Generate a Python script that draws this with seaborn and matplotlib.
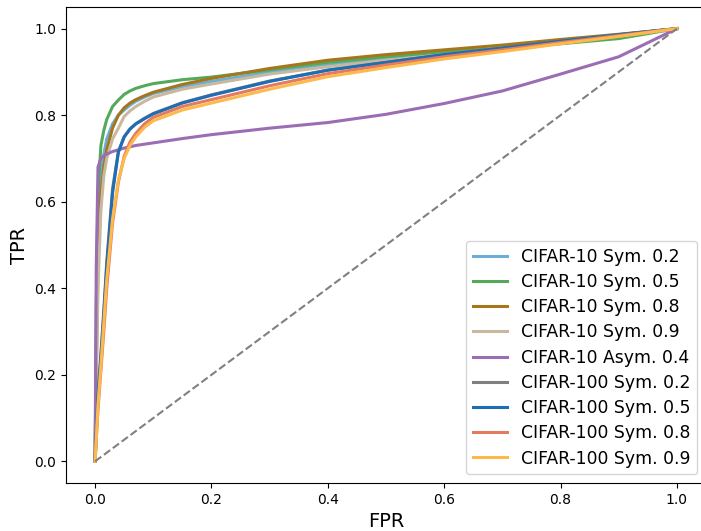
import numpy as np
import pandas as pd
import matplotlib
matplotlib.use("Agg")
import matplotlib.pyplot as plt
import seaborn as sns

# shared FPR grid
fpr = [0, 0.002, 0.005, 0.01, 0.015, 0.02, 0.03, 0.04, 0.05, 0.06, 0.07, 0.085,
       0.1, 0.15, 0.2, 0.3, 0.4, 0.5, 0.6, 0.7, 0.8, 0.9, 1.0]

labels = ["CIFAR-10 Sym. 0.2", "CIFAR-10 Sym. 0.5", "CIFAR-10 Sym. 0.8",
          "CIFAR-10 Sym. 0.9", "CIFAR-10 Asym. 0.4", "CIFAR-100 Sym. 0.2",
          "CIFAR-100 Sym. 0.5", "CIFAR-100 Sym. 0.8", "CIFAR-100 Sym. 0.9"]

c10_sym02 = [0, 0.25, 0.5, 0.66, 0.71, 0.745, 0.78, 0.80, 0.812, 0.823, 0.832, 0.842,
             0.85, 0.866, 0.878, 0.9, 0.916, 0.93, 0.942, 0.955, 0.97, 0.985, 1.0]
c10_sym05 = [0, 0.35, 0.62, 0.73, 0.765, 0.79, 0.82, 0.835, 0.848, 0.856, 0.862, 0.868,
             0.873, 0.882, 0.888, 0.905, 0.922, 0.935, 0.946, 0.955, 0.965, 0.977, 1.0]
c10_sym08 = [0, 0.2, 0.45, 0.62, 0.68, 0.72, 0.77, 0.80, 0.817, 0.828, 0.836, 0.845,
             0.853, 0.871, 0.885, 0.908, 0.927, 0.94, 0.951, 0.962, 0.975, 0.987, 1.0]
c10_sym09 = [0, 0.18, 0.4, 0.58, 0.66, 0.70, 0.745, 0.77, 0.797, 0.81, 0.82, 0.832,
             0.842, 0.86, 0.872, 0.895, 0.912, 0.927, 0.94, 0.953, 0.968, 0.983, 1.0]
c10_asym04 = [0, 0.45, 0.68, 0.70, 0.706, 0.71, 0.716, 0.72, 0.724, 0.727, 0.73, 0.733,
              0.736, 0.746, 0.755, 0.77, 0.783, 0.802, 0.827, 0.856, 0.895, 0.935, 1.0]
c100_sym02 = [0, 0.07, 0.16, 0.25, 0.35, 0.46, 0.63, 0.715, 0.75, 0.768, 0.78, 0.793,
              0.804, 0.829, 0.847, 0.879, 0.904, 0.922, 0.94, 0.955, 0.971, 0.986, 1.0]
c100_sym05 = [0, 0.06, 0.15, 0.24, 0.34, 0.45, 0.62, 0.715, 0.75, 0.768, 0.78, 0.792,
              0.803, 0.828, 0.846, 0.878, 0.904, 0.922, 0.94, 0.955, 0.971, 0.986, 1.0]
c100_sym08 = [0, 0.05, 0.12, 0.21, 0.30, 0.40, 0.55, 0.645, 0.705, 0.738, 0.758, 0.78,
              0.795, 0.82, 0.836, 0.868, 0.896, 0.916, 0.935, 0.951, 0.968, 0.984, 1.0]
c100_sym09 = [0, 0.05, 0.13, 0.22, 0.32, 0.42, 0.56, 0.65, 0.70, 0.73, 0.75, 0.772,
              0.787, 0.812, 0.828, 0.86, 0.889, 0.91, 0.93, 0.947, 0.965, 0.982, 1.0]

series = [c10_sym02, c10_sym05, c10_sym08, c10_sym09, c10_asym04,
          c100_sym02, c100_sym05, c100_sym08, c100_sym09]
colors = ["#6baed6", "#55a95a", "#a6761d", "#c8b99e", "#9a6db5",
          "#7f7f7f", "#1f6db4", "#e27b5f", "#fdb94b"]

df = pd.DataFrame({
    "FPR": np.tile(fpr, len(series)),
    "TPR": np.concatenate(series),
    "run": np.repeat(labels, len(fpr)),
})

fig = plt.figure(figsize=(7.01, 5.31), dpi=100)
ax = fig.add_axes([66 / 701, 48 / 531, 640 / 701, 476 / 531])

for lab, col in zip(labels, colors):
    sub = df[df["run"] == lab]
    sns.lineplot(data=sub, x="FPR", y="TPR", color=col, linewidth=2.2,
                 label=lab, ax=ax, sort=False)

ax.plot([0, 1], [0, 1], linestyle="--", color="gray", linewidth=1.5)

ax.set_xlim(-0.05, 1.05)
ax.set_ylim(-0.05, 1.05)
ax.set_xticks(np.arange(0, 1.01, 0.2))
ax.set_yticks(np.arange(0, 1.01, 0.2))
ax.set_xlabel("FPR", fontsize=14)
ax.set_ylabel("TPR", fontsize=14)
ax.legend(loc="lower right", fontsize=12.4, labelspacing=0.42)

fig.savefig("out.png", dpi=100)
